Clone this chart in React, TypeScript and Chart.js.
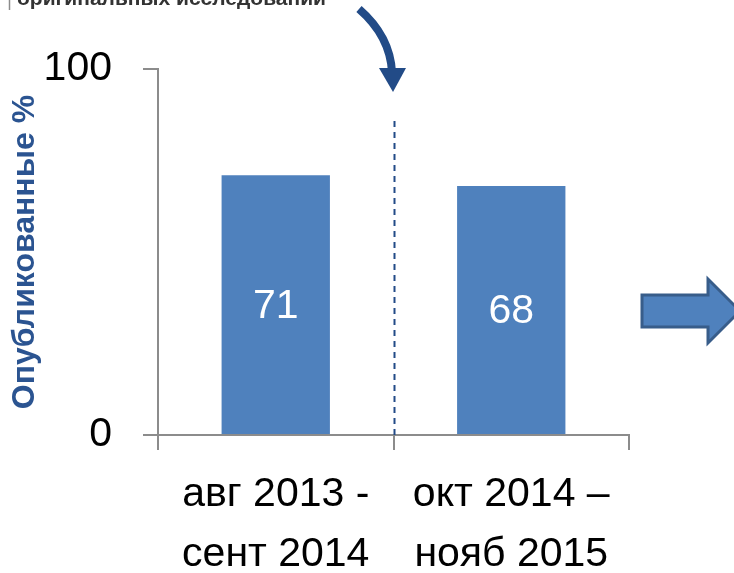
import React, { useEffect, useRef } from "react";
import { Chart, registerables } from "chart.js";

Chart.register(...registerables);

const categories: string[][] = [
  ["авг 2013 -", "сент 2014"],
  ["окт 2014 –", "нояб 2015"],
];
const publishedPct: number[] = [71, 68];
const yTicks: number[] = [0, 100];
const yTitle = "Опубликованные %";
const topText = "оригинальных исследований";

const FONT = "'Liberation Sans', Arial, sans-serif";
const BAR = "#4F81BD";
const DARK = "#224B87";

const decorPlugin = {
  id: "decor",
  afterDatasetsDraw(chart: any) {
    const ctx = chart.ctx as CanvasRenderingContext2D;
    const meta = chart.getDatasetMeta(0);
    const y = chart.scales.y;
    // data labels
    ctx.save();
    ctx.fillStyle = "#FFFFFF";
    ctx.font = `41px ${FONT}`;
    ctx.textAlign = "center";
    ctx.textBaseline = "middle";
    meta.data.forEach((bar: any, i: number) => {
      ctx.fillText(String(publishedPct[i]), bar.x, (bar.y + bar.base) / 2 + 2);
    });
    ctx.restore();

    // dashed divider between the periods
    const xs = meta.data.map((b: any) => b.x);
    const divX = Math.round((xs[0] + xs[1]) / 2) + 0.5;
    ctx.save();
    ctx.strokeStyle = DARK;
    ctx.lineWidth = 2;
    ctx.setLineDash([6, 5]);
    ctx.beginPath();
    ctx.moveTo(divX, y.bottom);
    ctx.lineTo(divX, 117);
    ctx.stroke();
    ctx.restore();

    // curved arrow
    ctx.save();
    ctx.strokeStyle = DARK;
    ctx.fillStyle = DARK;
    ctx.lineWidth = 8;
    ctx.beginPath();
    ctx.moveTo(359, 9);
    ctx.quadraticCurveTo(390, 36, 392, 72);
    ctx.stroke();
    ctx.beginPath();
    ctx.moveTo(379, 68);
    ctx.lineTo(406, 68);
    ctx.lineTo(393, 92);
    ctx.closePath();
    ctx.fill();
    ctx.restore();

    // block arrow at right
    ctx.save();
    ctx.fillStyle = BAR;
    ctx.strokeStyle = "#385D8A";
    ctx.lineWidth = 3;
    ctx.beginPath();
    ctx.moveTo(642, 295);
    ctx.lineTo(708, 295);
    ctx.lineTo(708, 279);
    ctx.lineTo(740, 311);
    ctx.lineTo(708, 343);
    ctx.lineTo(708, 327);
    ctx.lineTo(642, 327);
    ctx.closePath();
    ctx.fill();
    ctx.stroke();
    ctx.restore();

    // clipped text box at top
    ctx.save();
    ctx.strokeStyle = "#8C8C8C";
    ctx.lineWidth = 1.5;
    ctx.beginPath();
    ctx.moveTo(9.5, 0);
    ctx.lineTo(9.5, 10);
    ctx.stroke();
    ctx.fillStyle = "#333333";
    ctx.font = `bold 21px ${FONT}`;
    ctx.textAlign = "left";
    ctx.textBaseline = "alphabetic";
    ctx.fillText(topText, 17, 5);
    ctx.restore();
  },
};

export default function App() {
  const ref = useRef<HTMLCanvasElement | null>(null);
  useEffect(() => {
    if (!ref.current) return;
    const chart = new Chart(ref.current, {
      type: "bar",
      data: {
        labels: categories,
        datasets: [
          {
            data: publishedPct,
            backgroundColor: BAR,
            borderWidth: 0,
            categoryPercentage: 1,
            barPercentage: 0.46,
          },
        ],
      },
      options: {
        responsive: false,
        animation: false,
        devicePixelRatio: 1,
        layout: { padding: { left: 0, top: 69, right: 105, bottom: 0 } },
        plugins: {
          legend: { display: false },
          tooltip: { enabled: false },
        },
        scales: {
          x: {
            offset: true,
            grid: {
              offset: true,
              drawOnChartArea: false,
              drawTicks: true,
              tickLength: 15,
              color: "#8C8C8C",
              lineWidth: 2,
            },
            border: { display: true, color: "#8C8C8C", width: 2 },
            ticks: {
              color: "#000000",
              font: { family: FONT, size: 41, lineHeight: 1.46 },
              padding: 15,
              maxRotation: 0,
              minRotation: 0,
              autoSkip: false,
            },
            afterFit(scale: any) {
              scale.height = 138;
            },
          },
          y: {
            min: 0,
            max: 100,
            afterBuildTicks(scale: any) {
              scale.ticks = yTicks.map((v) => ({ value: v }));
            },
            grid: {
              drawOnChartArea: false,
              drawTicks: true,
              tickLength: 15,
              color: "#8C8C8C",
              lineWidth: 2,
            },
            border: { display: true, color: "#8C8C8C", width: 2 },
            ticks: {
              color: "#000000",
              font: { family: FONT, size: 41 },
              padding: 31,
            },
            title: {
              display: true,
              text: yTitle,
              color: "#2B5491",
              font: { family: FONT, size: 32, weight: "bold" },
              padding: { top: 6, bottom: 0 },
            },
            afterFit(scale: any) {
              scale.width = 158;
            },
          },
        },
      },
      plugins: [decorPlugin],
    } as any);
    return () => chart.destroy();
  }, []);
  return (
    <div style={{ position: "absolute", left: 0, top: 0, width: 734, height: 573 }}>
      <canvas ref={ref} width={734} height={573} style={{ display: "block" }} />
    </div>
  );
}
